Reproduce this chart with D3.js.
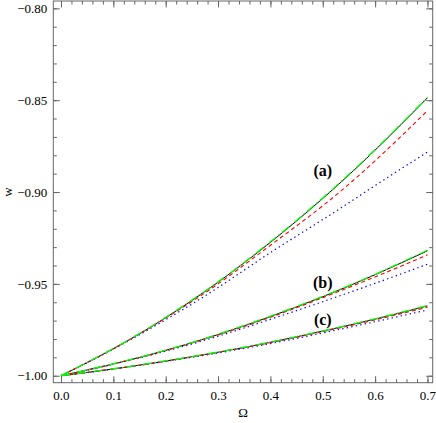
<!DOCTYPE html>
<html lang="en">
<head>
<meta charset="UTF-8">
<title>w vs Omega</title>
<script src="https://d3js.org/d3.v7.min.js"></script>
<style>
  body { margin: 0; background: #fff; }
</style>
</head>
<body>
<div id="chart"></div>
<script>
// data
var omega = [0, 0.1, 0.2, 0.3, 0.4, 0.5, 0.6, 0.7];

var aBlack = [-1, -0.9853, -0.9684, -0.9491, -0.9274, -0.9035, -0.8772, -0.8487];
var aGreen = [-1, -0.9852, -0.9682, -0.9489, -0.9271, -0.9032, -0.8769, -0.8484];
var aRed   = [-1, -0.9853, -0.9686, -0.9500, -0.9290, -0.9075, -0.8830, -0.8557];
var aBlue  = [-1, -0.9855, -0.9695, -0.9520, -0.9330, -0.9150, -0.8965, -0.8782];

var bBlack = [-1, -0.9936, -0.9862, -0.9776, -0.9678, -0.9570, -0.9450, -0.9320];
var bGreen = [-1, -0.9935, -0.9861, -0.9774, -0.9676, -0.9568, -0.9448, -0.9317];
var bRed   = [-1, -0.9936, -0.9863, -0.9778, -0.9682, -0.9575, -0.9462, -0.9342];
var bBlue  = [-1, -0.9937, -0.9866, -0.9785, -0.9693, -0.9597, -0.9497, -0.9393];

var cBlack = [-1, -0.9963, -0.9920, -0.9872, -0.9818, -0.9757, -0.9692, -0.9620];
var cGreen = [-1, -0.9962, -0.9919, -0.9871, -0.9817, -0.9756, -0.9690, -0.9618];
var cRed   = [-1, -0.9963, -0.9921, -0.9873, -0.9820, -0.9760, -0.9696, -0.9627];
var cBlue  = [-1, -0.9964, -0.9922, -0.9876, -0.9825, -0.9767, -0.9706, -0.9642];

var xTicks = [0, 0.1, 0.2, 0.3, 0.4, 0.5, 0.6, 0.7];
var yTicks = [-1.00, -0.95, -0.90, -0.85, -0.80];

var labels = [
  {text: "(a)", x: 0.50, y: -0.8895},
  {text: "(b)", x: 0.50, y: -0.9505},
  {text: "(c)", x: 0.50, y: -0.9702}
];

var width = 436, height = 423;
var plotL = 53.3, plotR = 432.7, plotT = 1, plotB = 382.7;
var serif = "'Liberation Serif', 'Times New Roman', 'DejaVu Serif', serif";

var svg = d3.select("#chart").append("svg")
  .attr("width", width)
  .attr("height", height)
  .attr("font-family", serif);

var x = d3.scaleLinear().domain([-0.0147, 0.710]).range([plotL, plotR]);
var y = d3.scaleLinear().domain([-1.0038, -0.796]).range([plotB, plotT]);

var axisColor = "#666";
var fmt = function(d) { return d3.format(".1f")(d); };
var fmtY = function(d) { return d3.format(".2f")(d).replace("-", "\u2212"); };

var xMinor = d3.range(0, 0.7001, 0.02);
var yMinor = d3.range(-1, -0.7999, 0.01);

// minor ticks
svg.append("g").attr("transform", "translate(0," + plotB + ")")
  .call(d3.axisBottom(x).tickValues(xMinor).tickFormat("").tickSizeInner(-3.5).tickSizeOuter(0));
svg.append("g").attr("transform", "translate(0," + plotT + ")")
  .call(d3.axisTop(x).tickValues(xMinor).tickFormat("").tickSizeInner(-3.5).tickSizeOuter(0));
svg.append("g").attr("transform", "translate(" + plotL + ",0)")
  .call(d3.axisLeft(y).tickValues(yMinor).tickFormat("").tickSizeInner(-3.5).tickSizeOuter(0));
svg.append("g").attr("transform", "translate(" + plotR + ",0)")
  .call(d3.axisRight(y).tickValues(yMinor).tickFormat("").tickSizeInner(-3.5).tickSizeOuter(0));

// major ticks with labels
svg.append("g").attr("transform", "translate(0," + plotB + ")")
  .call(d3.axisBottom(x).tickValues(xTicks).tickFormat(fmt).tickSizeInner(-6.5).tickSizeOuter(0).tickPadding(8));
svg.append("g").attr("transform", "translate(0," + plotT + ")")
  .call(d3.axisTop(x).tickValues(xTicks).tickFormat("").tickSizeInner(-6.5).tickSizeOuter(0));
svg.append("g").attr("transform", "translate(" + plotL + ",0)")
  .call(d3.axisLeft(y).tickValues(yTicks).tickFormat(fmtY).tickSizeInner(-6.5).tickSizeOuter(0).tickPadding(6));
svg.append("g").attr("transform", "translate(" + plotR + ",0)")
  .call(d3.axisRight(y).tickValues(yTicks).tickFormat("").tickSizeInner(-6.5).tickSizeOuter(0));

svg.selectAll(".domain").remove();
svg.selectAll("g").attr("font-family", serif);
svg.selectAll(".tick line").attr("stroke", axisColor);
svg.selectAll(".tick text")
  .attr("fill", "#000")
  .attr("font-family", serif)
  .style("font-size", "13px");

// frame
svg.append("rect")
  .attr("x", plotL).attr("y", plotT)
  .attr("width", plotR - plotL).attr("height", plotB - plotT)
  .attr("fill", "none")
  .attr("stroke", axisColor)
  .attr("stroke-width", 1);

// curves
var line = d3.line()
  .x(function(d, i) { return x(omega[i]); })
  .y(function(d) { return y(d); })
  .curve(d3.curveNatural);

var styles = {
  black: {color: "#000", dash: null, w: 1},
  blue:  {color: "#0000ff", dash: "1.4,3.2", w: 1.2},
  red:   {color: "#ff0000", dash: "4,3", w: 1.1},
  green: {color: "#00ff00", dash: "9,3,1.5,3", w: 1.3}
};

var series = [
  [aBlack, "black"], [bBlack, "black"], [cBlack, "black"],
  [aBlue, "blue"], [bBlue, "blue"], [cBlue, "blue"],
  [aRed, "red"], [bRed, "red"], [cRed, "red"],
  [aGreen, "green"], [bGreen, "green"], [cGreen, "green"]
];

series.forEach(function(s) {
  var st = styles[s[1]];
  svg.append("path")
    .datum(s[0])
    .attr("d", line)
    .attr("fill", "none")
    .attr("stroke", st.color)
    .attr("stroke-width", st.w)
    .attr("stroke-dasharray", st.dash);
});

// curve labels
svg.selectAll(".lab")
  .data(labels)
  .enter()
  .append("text")
  .attr("x", function(d) { return x(d.x); })
  .attr("y", function(d) { return y(d.y); })
  .attr("text-anchor", "middle")
  .attr("dominant-baseline", "middle")
  .style("font-size", "16px")
  .style("font-weight", "bold")
  .text(function(d) { return d.text; });

// axis titles
svg.append("text")
  .attr("x", (plotL + plotR) / 2)
  .attr("y", 414)
  .attr("text-anchor", "middle")
  .attr("dominant-baseline", "middle")
  .style("font-size", "13px")
  .text("\u03A9");

svg.append("text")
  .attr("transform", "translate(9," + y(-0.9) + ") rotate(-90)")
  .attr("text-anchor", "middle")
  .attr("dominant-baseline", "middle")
  .style("font-size", "13px")
  .text("w");
</script>
</body>
</html>
